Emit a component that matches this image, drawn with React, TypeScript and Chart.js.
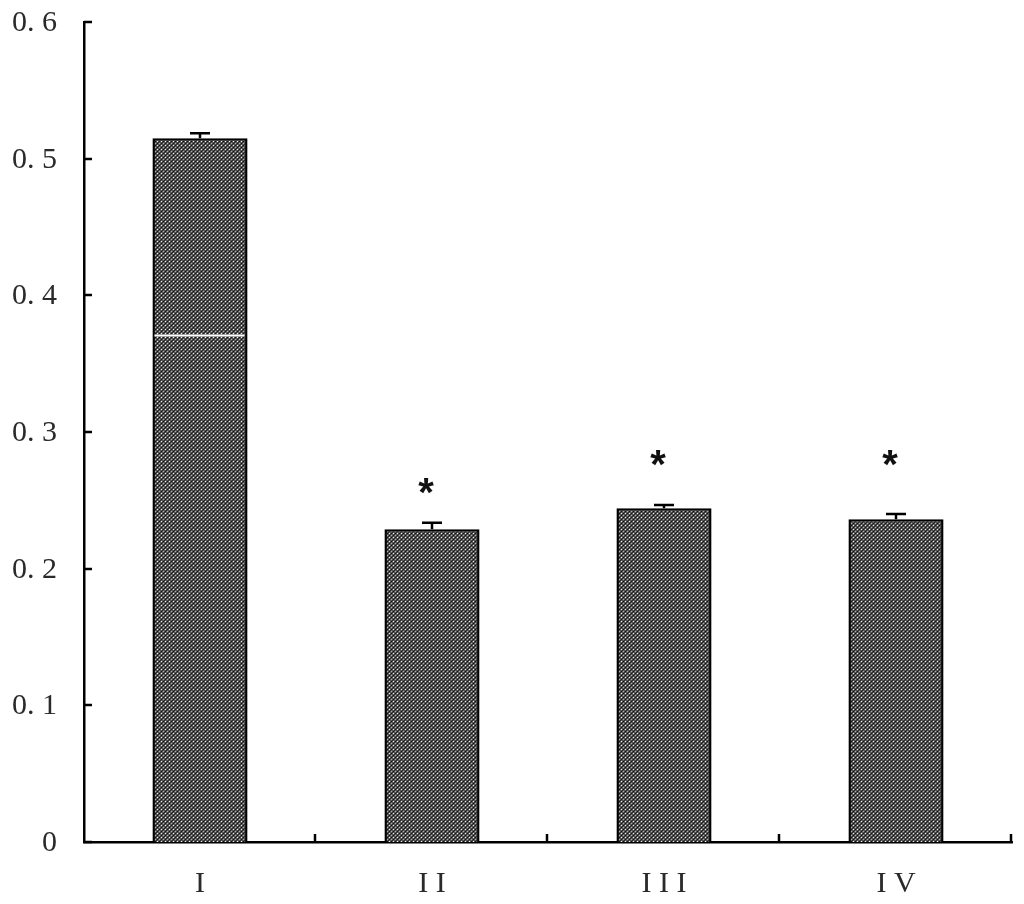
import React, { useEffect, useRef } from "react";
import { Chart, registerables } from "chart.js";

Chart.register(...registerables);

// ---- data ----
const categories = ["I", "I I", "I I I", "I V"];
const means = [0.5149, 0.2288, 0.2442, 0.2361];
const errors = [0.0037, 0.0048, 0.0024, 0.0039];
const markerValues = [null, 0.259, 0.2795, 0.2795];
const markerTexts = ["", "*", "*", "*"];
const yTickValues = [0, 0.1, 0.2, 0.3, 0.4, 0.5, 0.6];
const yTickLabels = ["0", "0. 1", "0. 2", "0. 3", "0. 4", "0. 5", "0. 6"];
const streakValues = [0.371, null, null, null]; // thin white streak inside bar I

function makePattern(): CanvasPattern | string {
  const c = document.createElement("canvas");
  c.width = 4;
  c.height = 4;
  const g = c.getContext("2d");
  if (!g) return "#5a5a5a";
  g.fillStyle = "#555555";
  g.fillRect(0, 0, 4, 4);
  g.fillStyle = "#f2f2f2";
  g.fillRect(1, 1, 1, 1);
  g.fillStyle = "#b0b0b0";
  g.fillRect(3, 3, 1, 1);
  g.fillStyle = "#111111";
  g.fillRect(3, 1, 1, 1);
  g.fillRect(1, 3, 1, 1);
  g.fillStyle = "#2a2a2a";
  g.fillRect(0, 0, 1, 1);
  g.fillRect(2, 2, 1, 1);
  const p = g.createPattern(c, "repeat");
  return p || "#5a5a5a";
}

const decorPlugin = {
  id: "decor",
  afterDatasetsDraw(chart: any) {
    const ctx = chart.ctx;
    const ys = chart.scales.y;
    const meta = chart.getDatasetMeta(0);
    const area = chart.chartArea;
    ctx.save();
    // white streaks
    meta.data.forEach((bar: any, i: number) => {
      const v = streakValues[i];
      if (v == null) return;
      const y = Math.round(ys.getPixelForValue(v)) + 0.5;
      ctx.strokeStyle = "#ffffff";
      ctx.lineWidth = 2;
      ctx.beginPath();
      ctx.moveTo(bar.x - bar.width / 2 + 2, y);
      ctx.lineTo(bar.x + bar.width / 2 - 3, y);
      ctx.stroke();
    });
    // error bars (upper only)
    ctx.strokeStyle = "#000";
    ctx.lineWidth = 2.5;
    meta.data.forEach((bar: any, i: number) => {
      const yTop = ys.getPixelForValue(means[i]);
      const yCap = ys.getPixelForValue(means[i] + errors[i]);
      ctx.beginPath();
      ctx.moveTo(bar.x, yTop);
      ctx.lineTo(bar.x, yCap);
      ctx.moveTo(bar.x - 10, yCap);
      ctx.lineTo(bar.x + 10, yCap);
      ctx.stroke();
    });
    // significance markers
    ctx.fillStyle = "#111";
    ctx.font = "bold 40px 'Liberation Sans'";
    ctx.textAlign = "center";
    ctx.textBaseline = "middle";
    meta.data.forEach((bar: any, i: number) => {
      const v = markerValues[i];
      if (v == null) return;
      ctx.fillText(markerTexts[i], bar.x - 6, ys.getPixelForValue(v) + 7);
    });
    // y tick labels
    ctx.fillStyle = "#2a2a2a";
    ctx.font = "30px 'Liberation Serif', serif";
    ctx.textAlign = "right";
    ctx.textBaseline = "middle";
    yTickValues.forEach((v, i) => {
      ctx.fillText(yTickLabels[i], area.left - 27, ys.getPixelForValue(v) + 1);
    });
    // inward ticks on y axis
    ctx.strokeStyle = "#000";
    ctx.lineWidth = 2.5;
    yTickValues.forEach((v) => {
      const y = Math.round(ys.getPixelForValue(v));
      ctx.beginPath();
      ctx.moveTo(area.left, y);
      ctx.lineTo(area.left + 8, y);
      ctx.stroke();
    });
    // inward ticks on x axis at category boundaries
    const step = (area.right - area.left) / categories.length;
    for (let i = 1; i <= categories.length; i++) {
      const x = Math.round(area.left + step * i) - 1;
      ctx.beginPath();
      ctx.moveTo(x, area.bottom);
      ctx.lineTo(x, area.bottom - 8);
      ctx.stroke();
    }
    ctx.restore();
  },
};

export default function App() {
  const ref = useRef<HTMLCanvasElement | null>(null);
  useEffect(() => {
    if (!ref.current) return;
    const pattern = makePattern();
    const chart = new Chart(ref.current, {
      type: "bar",
      data: {
        labels: categories,
        datasets: [
          {
            data: means,
            backgroundColor: pattern as any,
            borderColor: "#000",
            borderWidth: 2.5,
            categoryPercentage: 1,
            barPercentage: 0.41,
          },
        ],
      },
      options: {
        responsive: false,
        animation: false,
        events: [],
        layout: { padding: { top: 22, right: 12, left: 0, bottom: 0 } },
        plugins: { legend: { display: false }, tooltip: { enabled: false } },
        scales: {
          x: {
            offset: true,
            grid: { display: false, drawTicks: false },
            border: { display: true, color: "#000", width: 2.5 },
            ticks: {
              color: "#2a2a2a",
              padding: 24,
              font: { family: "'Liberation Serif', serif", size: 30 },
            },
            afterFit: (s: any) => {
              s.height = 62;
            },
          },
          y: {
            min: 0,
            max: 0.6,
            grid: { display: false, drawTicks: false },
            border: { display: true, color: "#000", width: 2.5 },
            afterBuildTicks: (s: any) => {
              s.ticks = yTickValues.map((v) => ({ value: v }));
            },
            ticks: { display: false },
            afterFit: (s: any) => {
              s.width = 84;
            },
          },
        },
      },
      plugins: [decorPlugin],
    });
    return () => chart.destroy();
  }, []);
  return (
    <div style={{ position: "absolute", left: 0, top: 0, width: 1024, height: 904, background: "#fff" }}>
      <canvas ref={ref} width={1024} height={904} />
    </div>
  );
}
